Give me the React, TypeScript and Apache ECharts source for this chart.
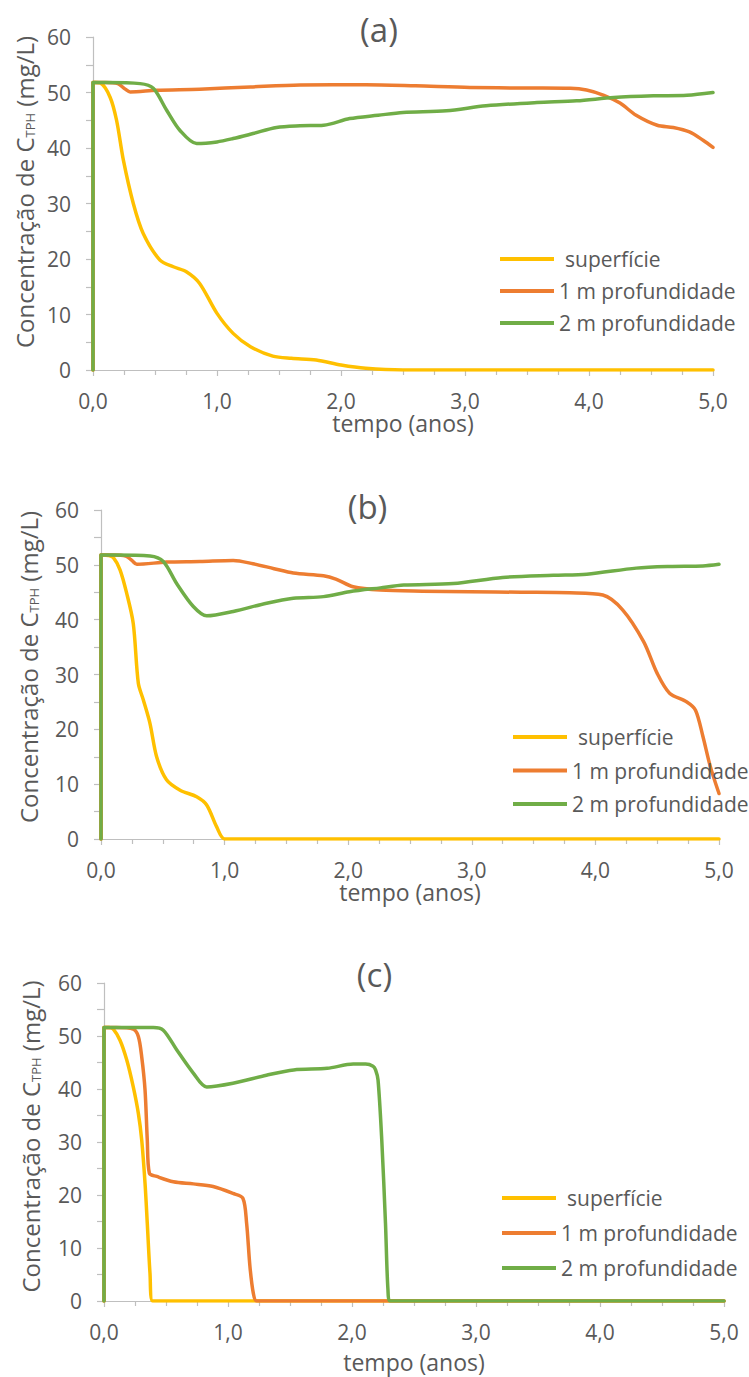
import React, { useEffect, useRef } from 'react';
import * as echarts from 'echarts';

const FONT = "'Open Sans', 'Noto Sans', sans-serif";
const TEXT = '#595959';
const AXIS = '#BFBFBF';

const SERIES_NAMES = ['superfície', '1 m profundidade', '2 m profundidade'];
const COLORS = ['#FFC000', '#ED7D31', '#70AD47'];
const PANEL_TITLES = ['(a)', '(b)', '(c)'];
const X_NAME = 'tempo (anos)';

// Panel (a)
const A_SUPERFICIE = [[0, 0], [0, 51.8], [0.02, 51.8], [0.06, 51.7], [0.137, 49.2], [0.19, 45.0], [0.245, 37.8], [0.325, 30.0], [0.405, 24.6], [0.54, 19.8], [0.648, 18.6], [0.753, 17.7], [0.86, 15.6], [1.0, 10.2], [1.13, 6.6], [1.27, 4.2], [1.45, 2.5], [1.6, 2.1], [1.8, 1.8], [2.0, 0.9], [2.2, 0.3], [2.5, 0], [3.0, 0], [4.0, 0], [5.0, 0]];
const A_1M = [[0, 0], [0, 51.8], [0.02, 51.8], [0.1, 51.8], [0.2, 51.6], [0.26, 50.6], [0.3, 50.1], [0.51, 50.4], [0.86, 50.6], [1.27, 51.0], [1.67, 51.35], [2.2, 51.4], [2.6, 51.2], [3.04, 50.9], [3.5, 50.8], [3.85, 50.75], [3.98, 50.45], [4.12, 49.5], [4.25, 48.1], [4.38, 45.9], [4.55, 44.1], [4.68, 43.7], [4.81, 42.9], [4.92, 41.4], [5.0, 40.1]];
const A_2M = [[0, 0], [0, 51.8], [0.02, 51.8], [0.1, 51.8], [0.38, 51.6], [0.486, 50.75], [0.594, 46.8], [0.7, 43.2], [0.836, 40.8], [1.0, 41.1], [1.13, 41.7], [1.29, 42.6], [1.48, 43.7], [1.67, 44.0], [1.86, 44.1], [2.07, 45.3], [2.3, 45.9], [2.5, 46.4], [2.85, 46.7], [3.17, 47.6], [3.58, 48.2], [3.9, 48.5], [4.2, 49.1], [4.52, 49.4], [4.79, 49.5], [5.0, 50.0]];

// Panel (b)
const B_SUPERFICIE = [[0, 0], [0, 51.8], [0.02, 51.8], [0.06, 51.7], [0.1, 51.3], [0.154, 49.1], [0.208, 44.8], [0.261, 39.3], [0.302, 28.4], [0.342, 25.4], [0.396, 21.1], [0.45, 15.0], [0.53, 10.8], [0.64, 8.9], [0.774, 7.7], [0.855, 6.2], [0.936, 2.2], [1.0, 0], [1.2, 0], [2.0, 0], [3.0, 0], [4.0, 0], [5.0, 0]];
const B_1M = [[0, 0], [0, 51.8], [0.02, 51.8], [0.1, 51.8], [0.2, 51.6], [0.25, 50.8], [0.29, 50.1], [0.53, 50.5], [0.8, 50.6], [1.07, 50.8], [1.23, 50.2], [1.4, 49.3], [1.556, 48.5], [1.8, 48.0], [1.9, 47.4], [2.04, 46.0], [2.26, 45.4], [2.6, 45.2], [2.985, 45.1], [3.4, 45.0], [3.794, 44.9], [4.06, 44.5], [4.22, 41.8], [4.39, 36.0], [4.5, 30.2], [4.6, 26.6], [4.74, 25.0], [4.81, 23.5], [4.87, 18.7], [4.93, 13.2], [5.0, 8.3]];
const B_2M = [[0, 0], [0, 51.8], [0.02, 51.8], [0.1, 51.8], [0.397, 51.6], [0.504, 50.6], [0.612, 46.6], [0.747, 42.4], [0.855, 40.7], [1.07, 41.5], [1.34, 43.0], [1.556, 43.9], [1.8, 44.2], [2.01, 45.1], [2.26, 45.8], [2.45, 46.3], [2.85, 46.6], [3.25, 47.7], [3.66, 48.1], [3.93, 48.3], [4.33, 49.4], [4.6, 49.7], [4.87, 49.8], [5.0, 50.1]];

// Panel (c)
const C_SUPERFICIE = [[0, 0], [0, 51.6], [0.02, 51.6], [0.04, 51.6], [0.075, 51.3], [0.129, 49.2], [0.183, 45.5], [0.236, 40.4], [0.277, 35.4], [0.304, 30.4], [0.331, 22.2], [0.349, 14.7], [0.371, 5.2], [0.392, 0], [0.5, 0], [1.0, 0], [2.0, 0], [3.0, 0], [4.0, 0], [5.0, 0]];
const C_1M = [[0, 0], [0, 51.6], [0.02, 51.6], [0.1, 51.6], [0.236, 51.3], [0.277, 49.9], [0.304, 46.1], [0.331, 39.8], [0.349, 30.4], [0.366, 24.1], [0.425, 23.5], [0.559, 22.5], [0.72, 22.1], [0.88, 21.6], [1.04, 20.3], [1.12, 19.4], [1.15, 14.7], [1.177, 6.5], [1.204, 1.5], [1.231, 0], [1.4, 0], [2.0, 0], [3.0, 0], [4.0, 0], [5.0, 0]];
const C_2M = [[0, 0], [0, 51.6], [0.02, 51.6], [0.1, 51.6], [0.398, 51.6], [0.478, 51.1], [0.586, 47.4], [0.72, 43.0], [0.828, 40.4], [1.04, 41.1], [1.31, 42.6], [1.53, 43.6], [1.8, 43.9], [2.01, 44.7], [2.11, 44.7], [2.17, 44.3], [2.19, 43.6], [2.21, 41.7], [2.24, 30.4], [2.27, 14.7], [2.29, 2.1], [2.31, 0], [2.5, 0], [3.0, 0], [4.0, 0], [5.0, 0]];

const PANEL_DATA = [
  [A_SUPERFICIE, A_1M, A_2M],
  [B_SUPERFICIE, B_1M, B_2M],
  [C_SUPERFICIE, C_1M, C_2M],
];

// layout (pixels)
const LAYOUT = [
  { left: 93, top: 37, width: 620, height: 333, titleX: 379, titleY: 29.5, legendLeft: 500, legendTop: 246, legendGap: 6, yNameGap: 55, yNameShift: 23, xNameGap: 37 },
  { left: 101, top: 510, width: 618, height: 329, titleX: 367.5, titleY: 506, legendLeft: 513, legendTop: 724, legendGap: 7.5, yNameGap: 61, yNameShift: 15, xNameGap: 39 },
  { left: 104, top: 983, width: 620, height: 318, titleX: 374.5, titleY: 974, legendLeft: 502, legendTop: 1185, legendGap: 9, yNameGap: 62, yNameShift: 11, xNameGap: 49 },
];

function buildOption() {
  const grid: any[] = [];
  const xAxis: any[] = [];
  const yAxis: any[] = [];
  const series: any[] = [];
  const legend: any[] = [];
  const graphic: any[] = [];

  LAYOUT.forEach((L, i) => {
    grid.push({ left: L.left, top: L.top, width: L.width, height: L.height, containLabel: false });
    xAxis.push({
      type: 'value', gridIndex: i, min: 0, max: 5, interval: 1,
      name: X_NAME, nameLocation: 'middle', nameGap: L.xNameGap,
      nameTextStyle: { fontSize: 23, color: TEXT, fontFamily: FONT },
      axisLine: { show: true, onZero: false, lineStyle: { color: AXIS, width: 1.2 } },
      axisTick: { show: true, length: 6, lineStyle: { color: AXIS, width: 1.2 } },
      minorTick: { show: true, splitNumber: 4, length: 5, lineStyle: { color: AXIS, width: 1.2 } },
      splitLine: { show: false },
      axisLabel: { fontSize: 21, color: TEXT, fontFamily: FONT, margin: 20, formatter: (v: number) => v.toFixed(1).replace('.', ',') },
    });
    yAxis.push({
      type: 'value', gridIndex: i, min: 0, max: 60, interval: 10,
      name: '{a|Concentração de C}{s|TPH}{a| (mg/L)}', nameLocation: 'middle', nameRotate: 90, nameGap: L.yNameGap,
      nameTextStyle: {
        padding: [0, 0, 0, L.yNameShift],
        rich: {
          a: { fontSize: 24, color: TEXT, fontFamily: FONT },
          s: { fontSize: 13, color: TEXT, fontFamily: FONT, verticalAlign: 'bottom' },
        },
      },
      axisLine: { show: true, onZero: false, lineStyle: { color: AXIS, width: 1.2 } },
      axisTick: { show: true, length: 7, lineStyle: { color: AXIS, width: 1.2 } },
      minorTick: { show: true, splitNumber: 2, length: 7, lineStyle: { color: AXIS, width: 1.2 } },
      splitLine: { show: false },
      axisLabel: { fontSize: 21, color: TEXT, fontFamily: FONT, margin: 22 },
    });
    PANEL_DATA[i].forEach((data, k) => {
      series.push({
        type: 'line', name: SERIES_NAMES[k], xAxisIndex: i, yAxisIndex: i,
        data, showSymbol: false, symbol: 'none', smooth: 0.3,
        lineStyle: { color: COLORS[k], width: 3.5, cap: 'round', join: 'round' },
        itemStyle: { color: COLORS[k] },
        z: 2 + k,
      });
    });
    legend.push({
      data: SERIES_NAMES, orient: 'vertical', left: L.legendLeft, top: L.legendTop,
      itemWidth: 54, itemHeight: 4, itemGap: L.legendGap, icon: 'rect', selectedMode: false, padding: 0,
      formatter: (name: string) => (name === 'superfície' ? `{p|${name}}` : name),
      textStyle: {
        fontSize: 21, color: TEXT, fontFamily: FONT, lineHeight: 26,
        rich: { p: { fontSize: 21, color: TEXT, fontFamily: FONT, lineHeight: 26, padding: [0, 0, 0, 6] } },
      },
    });
    graphic.push({
      type: 'text', x: L.titleX, y: L.titleY,
      style: { text: PANEL_TITLES[i], fontSize: 33, fill: TEXT, fontFamily: FONT, align: 'center', verticalAlign: 'middle' },
    });
  });

  return { animation: false, backgroundColor: '#ffffff', grid, xAxis, yAxis, series, legend, graphic };
}

export default function App() {
  const ref = useRef<HTMLDivElement>(null);
  useEffect(() => {
    if (!ref.current) return;
    const chart = echarts.init(ref.current, null, { renderer: 'svg' });
    chart.setOption(buildOption() as any);
    return () => chart.dispose();
  }, []);
  return <div ref={ref} style={{ position: 'absolute', left: 0, top: 0, width: 749, height: 1377, background: '#fff' }} />;
}
